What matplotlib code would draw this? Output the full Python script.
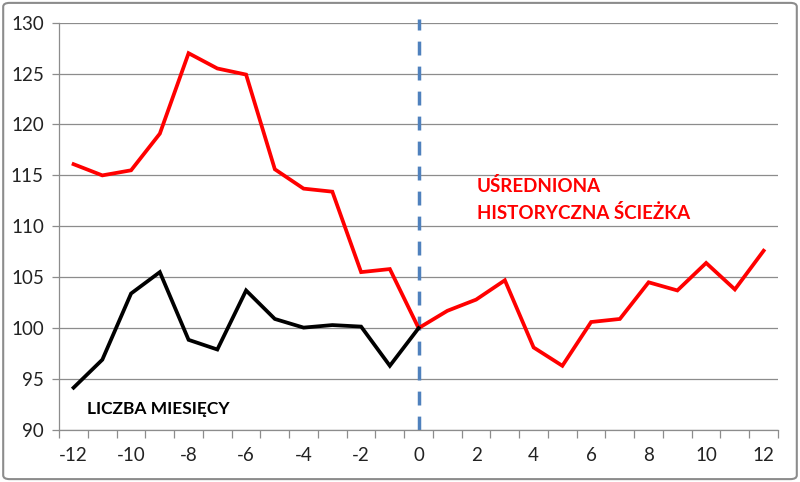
import matplotlib
matplotlib.use("Agg")
import matplotlib.pyplot as plt
from matplotlib.patches import FancyBboxPatch
import numpy as np

months_red = list(range(-12, 13))
red_values = [116.1, 115.0, 115.5, 119.1, 127.0, 125.5, 124.9, 115.6, 113.7, 113.4,
              105.5, 105.8, 100.0, 101.7, 102.8, 104.7, 98.1, 96.3, 100.6, 100.9,
              104.5, 103.7, 106.4, 103.8, 107.6]
months_black = list(range(-12, 1))
black_values = [94.15, 96.9, 103.4, 105.5, 98.85, 97.9, 103.7, 100.9, 100.05, 100.3,
                100.15, 96.3, 100.0]
xtick_labels = list(range(-12, 13, 2))
yticks = [90, 95, 100, 105, 110, 115, 120, 125, 130]

plt.rcParams['font.family'] = ['Lato', 'DejaVu Sans']

fig = plt.figure(figsize=(8, 4.82), dpi=100)
ax = fig.add_axes([0.074, 0.108, 0.8985, 0.845])

for y in yticks:
    ax.axhline(y, color='#8c8c8c', lw=0.9, zorder=1)

ax.plot(months_red, red_values, color='#ff0000', lw=2.7, zorder=3, solid_joinstyle='miter')
ax.plot(months_black, black_values, color='#000000', lw=2.7, zorder=4, solid_joinstyle='miter')
ax.axvline(0, ymin=0.0, ymax=1.01, color='#4f81bd', lw=2.5, ls=(0, (4.0, 3.2)), zorder=2, clip_on=False)

ax.set_xlim(-12.5, 12.5)
ax.set_ylim(90, 130)
ax.set_xticks(xtick_labels)
ax.set_xticklabels([str(v) for v in xtick_labels])
ax.set_xticks(np.arange(-12.5, 13.0, 1.0), minor=True)
ax.tick_params(axis='x', which='major', length=0, pad=12, labelsize=13.5, colors='#222222')
ax.tick_params(axis='x', which='minor', length=6, direction='out', color='#8c8c8c', width=0.9)
ax.set_yticks(yticks)
ax.tick_params(axis='y', length=5, direction='out', width=0.9, pad=6,
               labelsize=13.5, colors='#8c8c8c')
for lab in ax.get_yticklabels():
    lab.set_color('#222222')

for s in ['top', 'right']:
    ax.spines[s].set_visible(False)
for s in ['left', 'bottom']:
    ax.spines[s].set_color('#8c8c8c')
    ax.spines[s].set_linewidth(0.9)

ax.text(-11.53, 92.1, 'LICZBA MIESIĘCY', color='black', fontsize=12.5, fontweight='bold',
        va='center', ha='left')
ax.text(2.02, 113.95, 'UŚREDNIONA', color='#ff0000', fontsize=13.5, fontweight='bold',
        va='center', ha='left')
ax.text(2.02, 111.3, 'HISTORYCZNA ŚCIEŻKA', color='#ff0000', fontsize=13.5, fontweight='bold',
        va='center', ha='left')

border = FancyBboxPatch((0.004, 0.006), 0.992, 0.988, boxstyle='round,pad=0,rounding_size=0.008',
                        transform=fig.transFigure, fill=False, edgecolor='#8c8c8c', lw=1.5)
fig.patches.append(border)

fig.savefig('out.png', dpi=100)
